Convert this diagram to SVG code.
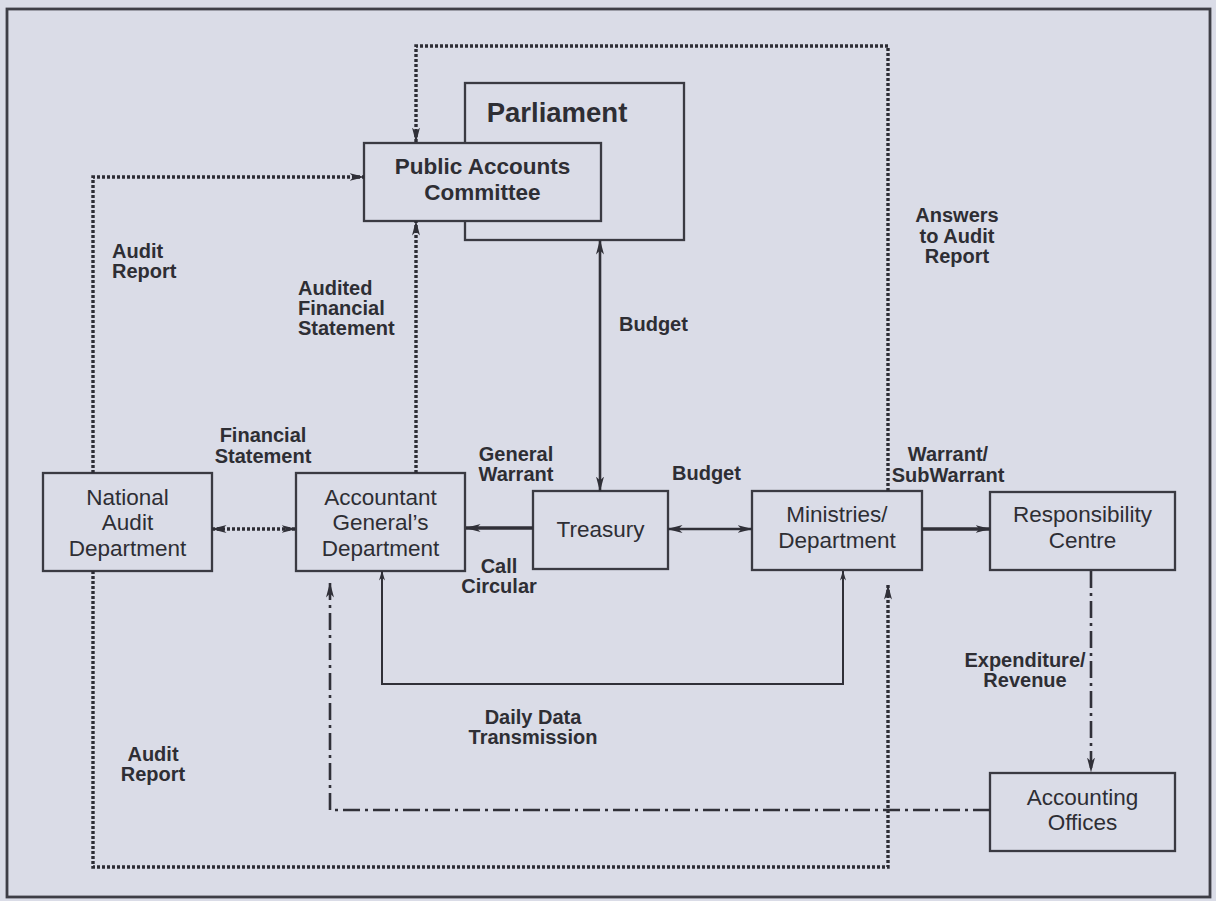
<svg xmlns="http://www.w3.org/2000/svg" width="1216" height="901" viewBox="0 0 1216 901">
<defs>
<style>
.bg{fill:#dadce7}
.frame{fill:none;stroke:#3e3e46;stroke-width:2.8}
.box{fill:#dadce7;stroke:#3a3a42;stroke-width:2.3}
.t{font-family:"Liberation Sans",Arial,sans-serif;font-size:22.5px;fill:#2e2e34;text-anchor:middle}
.tb{font-family:"Liberation Sans",Arial,sans-serif;font-weight:bold;fill:#2e2e34;text-anchor:middle}
.b{font-family:"Liberation Sans",Arial,sans-serif;font-weight:bold;font-size:20px;fill:#2e2e34}
.m{text-anchor:middle}
.dot{fill:none;stroke:#2c2c34;stroke-width:3.4;stroke-dasharray:3 2}
.sol{fill:none;stroke:#303038;stroke-width:2.6}
.thick{fill:none;stroke:#303038;stroke-width:3.6}
.thin{fill:none;stroke:#303038;stroke-width:2}
.dd{fill:none;stroke:#303038;stroke-width:2.6;stroke-dasharray:17 5 3 5}
</style>
<marker id="ah" viewBox="0 0 15 8" refX="14.5" refY="4" markerWidth="15" markerHeight="8" markerUnits="userSpaceOnUse" orient="auto-start-reverse"><path d="M0,0 L15,4 L0,8 L4,4 z" fill="#303038"/></marker>
<marker id="ahs" viewBox="0 0 10 6" refX="9.5" refY="3" markerWidth="10" markerHeight="6" markerUnits="userSpaceOnUse" orient="auto-start-reverse"><path d="M0,0 L10,3 L0,6 L3,3 z" fill="#303038"/></marker>
</defs>
<rect class="bg" x="0" y="0" width="1216" height="901"/>
<rect class="frame" x="7" y="9" width="1203" height="888"/>

<g id="parliament">
<rect class="box" x="465" y="83" width="219" height="157"/>
<text class="tb" x="557" y="122" font-size="27.5">Parliament</text>
</g>
<g id="pac">
<rect class="box" x="364" y="143" width="237" height="78"/>
<text class="tb" x="482.5" y="174" font-size="22.5">Public Accounts</text>
<text class="tb" x="482.5" y="200" font-size="22.5">Committee</text>
</g>
<g id="nad">
<rect class="box" x="43" y="473" width="169" height="98"/>
<text class="t" x="127.5" y="505">National</text>
<text class="t" x="127.5" y="530">Audit</text>
<text class="t" x="127.5" y="556">Department</text>
</g>
<g id="agd">
<rect class="box" x="296" y="473" width="169" height="98"/>
<text class="t" x="380.5" y="505">Accountant</text>
<text class="t" x="380.5" y="530">General’s</text>
<text class="t" x="380.5" y="556">Department</text>
</g>
<g id="treasury">
<rect class="box" x="533" y="491" width="135" height="78"/>
<text class="t" x="600.5" y="537">Treasury</text>
</g>
<g id="ministries">
<rect class="box" x="752" y="491" width="170" height="79"/>
<text class="t" x="837" y="522">Ministries/</text>
<text class="t" x="837" y="548">Department</text>
</g>
<g id="responsibility">
<rect class="box" x="990" y="492" width="185" height="78"/>
<text class="t" x="1082.5" y="522">Responsibility</text>
<text class="t" x="1082.5" y="548">Centre</text>
</g>
<g id="accounting">
<rect class="box" x="990" y="773" width="185" height="78"/>
<text class="t" x="1082.5" y="805">Accounting</text>
<text class="t" x="1082.5" y="830">Offices</text>
</g>

<g id="connectors">
<path class="dot" d="M93,571 V867 H888 V585" marker-end="url(#ah)"/>
<path class="dot" d="M888,491 V46 H416 V142" marker-end="url(#ah)"/>
<path class="dot" d="M93,473 V177 H364" marker-end="url(#ah)"/>
<path class="dot" d="M416,473 V221" marker-end="url(#ah)"/>
<path class="dot" d="M212,529 H296" marker-start="url(#ah)" marker-end="url(#ah)"/>
<path class="sol" d="M600,491 V240" marker-start="url(#ah)" marker-end="url(#ah)"/>
<path class="thick" d="M533,528 H466" marker-end="url(#ah)"/>
<path class="sol" d="M668,529 H752" marker-start="url(#ah)" marker-end="url(#ah)"/>
<path class="thick" d="M922,529 H990" marker-end="url(#ah)"/>
<path class="thin" d="M382,571 V684 H843 V571" marker-start="url(#ahs)" marker-end="url(#ahs)"/>
<path class="dd" d="M990,810 H330 V583" marker-end="url(#ah)"/>
<path class="dd" d="M1091,571 V772" marker-end="url(#ah)"/>
</g>

<g id="labels">
<text class="b" x="112" y="258">Audit</text>
<text class="b" x="112" y="278">Report</text>
<text class="b" x="298" y="295">Audited</text>
<text class="b" x="298" y="315">Financial</text>
<text class="b" x="298" y="335">Statement</text>
<text class="b m" x="957" y="222">Answers</text>
<text class="b m" x="957" y="243">to Audit</text>
<text class="b m" x="957" y="263">Report</text>
<text class="b" x="619" y="331">Budget</text>
<text class="b m" x="263" y="442">Financial</text>
<text class="b m" x="263" y="463">Statement</text>
<text class="b m" x="516" y="461">General</text>
<text class="b m" x="516" y="481">Warrant</text>
<text class="b" x="672" y="480">Budget</text>
<text class="b m" x="948" y="461">Warrant/</text>
<text class="b m" x="948" y="482">SubWarrant</text>
<text class="b m" x="499" y="573">Call</text>
<text class="b m" x="499" y="593">Circular</text>
<text class="b m" x="1025" y="667">Expenditure/</text>
<text class="b m" x="1025" y="687">Revenue</text>
<text class="b m" x="533" y="724">Daily Data</text>
<text class="b m" x="533" y="744">Transmission</text>
<text class="b m" x="153" y="761">Audit</text>
<text class="b m" x="153" y="781">Report</text>
</g>
</svg>
